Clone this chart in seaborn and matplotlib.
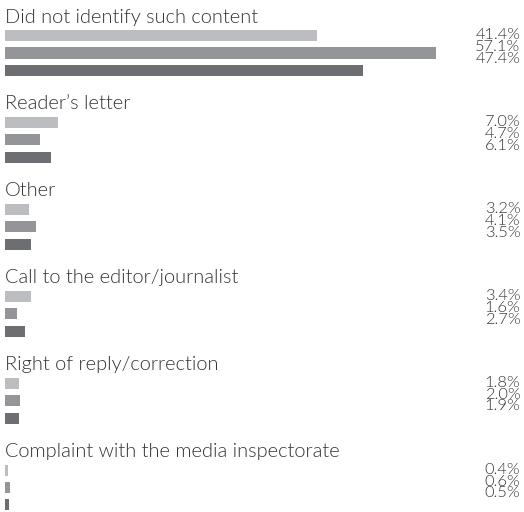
import pandas as pd
import matplotlib
matplotlib.use("Agg")
import matplotlib.pyplot as plt
import seaborn as sns

# chart data
categories = [
    "Did not identify such content",
    "Reader\u2019s letter",
    "Other",
    "Call to the editor/journalist",
    "Right of reply/correction",
    "Complaint with the media inspectorate",
]
series = ["Series 1", "Series 2", "Series 3"]
series_1 = [41.4, 7.0, 3.2, 3.4, 1.8, 0.4]
series_2 = [57.1, 4.7, 4.1, 1.6, 2.0, 0.6]
series_3 = [47.4, 6.1, 3.5, 2.7, 1.9, 0.5]
colors = ["#BCBDC0", "#939598", "#6D6E71"]

rows = []
for name, vals in zip(series, [series_1, series_2, series_3]):
    for cat, v in zip(categories, vals):
        rows.append({"category": cat, "series": name, "value": v})
df = pd.DataFrame(rows)

sns.set_style("white")
plt.rcParams["font.family"] = ["Lato", "DejaVu Sans"]
text_color = "#333333"

fig = plt.figure(figsize=(5.24, 5.12), dpi=100)
ax = fig.add_axes([0, 0, 1, 1])

sns.barplot(data=df, x="value", y="category", hue="series", order=categories,
            hue_order=series, palette=colors, orient="h", width=0.604, gap=0.371,
            saturation=1, linewidth=0, legend=False, ax=ax)

px = 86.9  # pixels per category step
ax.set_ylim((512 - 53) / px, -53 / px)
ax.set_xlim(-5 / 7.548, (524 - 5) / 7.548)
ax.axis("off")

trans = ax.get_yaxis_transform()
for i, cat in enumerate(categories):
    # category title above bars
    ax.text(0, i - 30.5 / px, cat, ha="left", va="baseline", fontsize=14.4,
            fontweight=300, color=text_color)
    # stacked value labels on the right (tightly stacked like the original)
    vals = [series_1[i], series_2[i], series_3[i]]
    for j, v in enumerate(vals):
        off = (-13.6 + 11.7 * j) / px
        ax.text(0.993, i + off, f"{v:.1f}%", transform=trans, ha="right",
                va="baseline", fontsize=11.8, fontweight=300, color=text_color)

fig.savefig("out.png", dpi=100)
